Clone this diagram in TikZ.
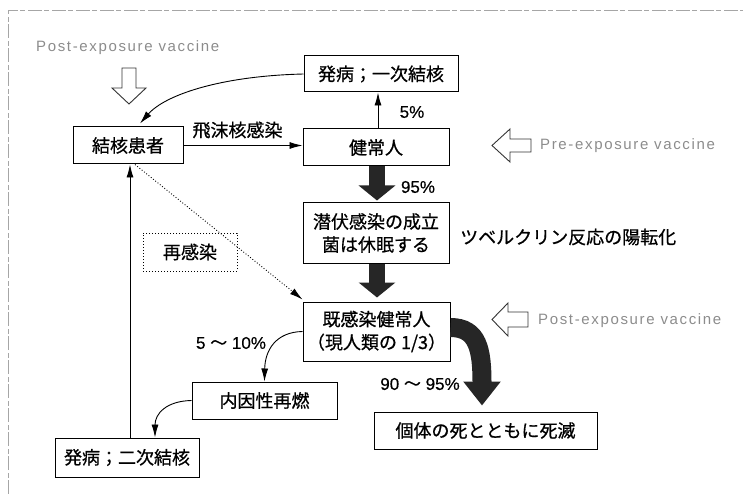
\documentclass[tikz,border=0pt]{standalone}
\usepackage{fontspec}
\setmainfont{Liberation Sans}
\newfontfamily\cjk[FakeBold=0.7]{Noto Sans CJK JP}
\newfontfamily\lab[FakeBold=0.4]{Liberation Sans}
\usetikzlibrary{arrows.meta}
\tikzset{
  box/.style={draw, line width=1pt, inner sep=0pt, align=center,
    font=\cjk\fontsize{18}{23}\selectfont},
  dotbox/.style={box, dotted},
  lbl/.style={inner sep=0pt, font=\lab\fontsize{17}{20}\selectfont},
  jlbl/.style={inner sep=0pt, font=\cjk\fontsize{18}{22}\selectfont},
  vac/.style={inner sep=0pt, anchor=west, text=black!45,
    font=\fontsize{15}{18}\selectfont\addfontfeature{LetterSpace=11}},
  hollow/.style={draw=black!80, line width=0.9pt, fill=white, line join=miter},
  thinarrow/.style={line width=0.9pt, -{Latex[length=13pt,width=7pt]}},
  fat/.style={line width=16pt, draw=black!85, -{Triangle[length=15pt,width=36pt]}},
  border/.style={draw=black!35, line width=0.6pt, dash pattern=on 14pt off 2pt on 5pt off 3pt},
}
\begin{document}
\begin{tikzpicture}[x=1pt,y=-1pt]
\useasboundingbox (0,0) rectangle (743,494);
\draw[border] (8,494) -- (8,10) -- (743,10);

% boxes
\node[box, minimum width=110pt, minimum height=37pt] (patient) at (128,145.5) {結核患者};
\node[box, minimum width=154pt, minimum height=36pt] (primary) at (381,74) {発病；一次結核};
\node[box, minimum width=146pt, minimum height=37pt] (healthy) at (376,147.5) {健常人};
\node[box, minimum width=146pt, minimum height=60pt] (latent) at (376,233) {潜伏感染の成立\\菌は休眠する};
\node[box, minimum width=147pt, minimum height=59pt] (infected) at (376.5,331.5) {既感染健常人\\（現人類の 1/3）};
\node[box, minimum width=145pt, minimum height=37pt] (endog) at (264.5,400.5) {内因性再燃};
\node[box, minimum width=144pt, minimum height=39pt] (secondary) at (127,457.5) {発病；二次結核};
\node[box, minimum width=223pt, minimum height=37pt] (death) at (485.5,430.5) {個体の死とともに死滅};
\node[dotbox, minimum width=94pt, minimum height=38pt] (reinf) at (190,252) {再感染};

% labels
\node[jlbl] (droplet) at (237.5,130) {飛沫核感染};
\node[lbl] (p5) at (412,112) {5\%};
\node[lbl] (p95) at (418,187) {95\%};
\node[lbl] (p510) at (231,343) {5 {\cjk ～} 10\%};
\node[lbl] (p9095) at (420,384) {90 {\cjk ～} 95\%};
\node[jlbl, anchor=west] (tub) at (460,237) {ツベルクリン反応の陽転化};

% vaccine labels
\node[vac] (vac1) at (36,48) {Post-exposure vaccine};
\node[vac] (vac2) at (540,146) {Pre-exposure vaccine};
\node[vac] (vac3) at (538,321) {Post-exposure vaccine};

% hollow arrows
\draw[hollow] (122,68) -- (136,68) -- (136,88) -- (146,88) -- (129,104) -- (112,88) -- (122,88) -- cycle;
\draw[hollow] (492,145.5) -- (510,129) -- (510,139) -- (531,139) -- (531,152) -- (510,152) -- (510,162) -- cycle;
\draw[hollow] (492,319.5) -- (508,303) -- (508,312) -- (528,312) -- (528,327) -- (508,327) -- (508,336) -- cycle;

% connectors
\draw[thinarrow] (patient.east) -- (patient.east -| healthy.west);
\draw[thinarrow] ([xshift=2pt]healthy.north) -- ([xshift=2pt]healthy.north |- primary.south);
\draw[thinarrow] (primary.west) .. controls (220,76) and (165,95) .. ([xshift=12pt,yshift=3pt]patient.north);
\draw[fat] ([xshift=1pt]healthy.south) -- ([xshift=1pt,yshift=2pt]latent.north);
\draw[fat] ([xshift=1pt]latent.south) -- ([xshift=0.5pt,yshift=4pt]infected.north);
\draw[line width=19pt, draw=black!85, -{Triangle[length=24pt,width=36pt]}]
  ([yshift=4pt]infected.east) .. controls (478,327.5) and (482,350) .. ([xshift=-3.5pt,yshift=6pt]death.north);
\draw[thinarrow, dotted] ([xshift=7pt]patient.south) -- ([yshift=2pt]infected.north west);
\draw[thinarrow] (infected.west) .. controls (276,332) and (265,350) .. (endog.north);
\draw[thinarrow] (endog.west) .. controls (166,401) and (155,414) .. ([xshift=28pt]secondary.north);
\draw[thinarrow] ([xshift=3pt]secondary.north) -- ([xshift=3pt]secondary.north |- patient.south);
\end{tikzpicture}
\end{document}
